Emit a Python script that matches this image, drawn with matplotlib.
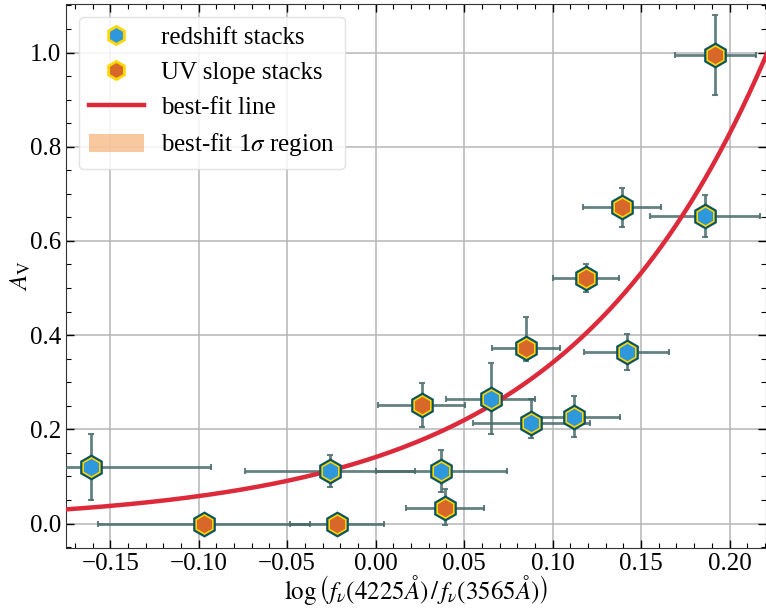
import numpy as np
import matplotlib
matplotlib.use("Agg")
import matplotlib.pyplot as plt
from matplotlib.lines import Line2D
from matplotlib.patches import Patch
from matplotlib.ticker import MultipleLocator

plt.rcParams['font.family'] = ['Liberation Serif', 'DejaVu Serif']
plt.rcParams['mathtext.fontset'] = 'stix'
plt.rcParams['font.size'] = 18

# redshift stacks
z_x = [-0.161, -0.026, 0.037, 0.065, 0.088, 0.112, 0.142, 0.186]
z_y = [0.119, 0.112, 0.112, 0.265, 0.213, 0.227, 0.364, 0.653]
z_xerr = [0.068, 0.048, 0.037, 0.025, 0.033, 0.026, 0.024, 0.031]
z_yerr_lo = [0.070, 0.034, 0.045, 0.075, 0.031, 0.043, 0.039, 0.044]
z_yerr_hi = [0.070, 0.034, 0.045, 0.075, 0.052, 0.043, 0.039, 0.044]

# UV slope stacks
uv_x = [-0.097, -0.022, 0.039, 0.026, 0.085, 0.119, 0.139, 0.192]
uv_y = [0.0, 0.0, 0.032, 0.252, 0.372, 0.522, 0.671, 0.995]
uv_xerr = [0.060, 0.0265, 0.022, 0.0245, 0.019, 0.0185, 0.022, 0.023]
uv_yerr_lo = [0.0, 0.0, 0.035, 0.047, 0.028, 0.030, 0.041, 0.085]
uv_yerr_hi = [0.0, 0.0, 0.041, 0.047, 0.067, 0.030, 0.041, 0.085]

# best-fit: A_V = amp * exp(slope * x)
fit_amp = 0.141
fit_slope = 8.85

blue = '#2f97dc'
orange = '#d8672a'
gold = '#ffd700'
teal = '#0b5560'
ecol = '#4a6b6b'

fig = plt.figure(figsize=(7.66, 6.09), dpi=100)
ax = fig.add_axes([66/766, 61/609, 700/766, 544/609])

def stack(ax, x, y, xerr, ylo, yhi, fill):
    ax.errorbar(x, y, xerr=xerr, yerr=[ylo, yhi], fmt='none', ecolor=ecol,
                elinewidth=2, capsize=2.5, capthick=1.5, alpha=0.85, zorder=3)
    ax.plot(x, y, 'h', ms=17, mfc=gold, mec=teal, mew=1.6, ls='none', zorder=5)
    ax.plot(x, y, 'h', ms=12.5, mfc=fill, mec='none', ls='none', zorder=6)

stack(ax, z_x, z_y, z_xerr, z_yerr_lo, z_yerr_hi, blue)
stack(ax, uv_x, uv_y, uv_xerr, uv_yerr_lo, uv_yerr_hi, orange)

xx = np.linspace(-0.18, 0.23, 300)
ax.plot(xx, fit_amp * np.exp(fit_slope * xx), color='#dc2a3b', lw=3.2, zorder=4)

ax.set_xlim(-0.175, 0.2206)
ax.set_ylim(-0.052, 1.103)
ax.grid(True, color='#b5b5b5', lw=1.1)
ax.set_axisbelow(True)
ax.xaxis.set_major_locator(MultipleLocator(0.05))
ax.xaxis.set_minor_locator(MultipleLocator(0.01))
ax.yaxis.set_major_locator(MultipleLocator(0.2))
ax.yaxis.set_minor_locator(MultipleLocator(0.05))
ax.tick_params(which='both', direction='in', top=True, right=True)
ax.tick_params(which='major', length=6, width=1)
ax.tick_params(which='minor', length=3.5, width=0.8)
for s in ax.spines.values():
    s.set_color('#333333')

ax.set_xlabel(r'$\log\left(f_\nu(4225Å)\,/\,f_\nu(3565Å)\right)$', labelpad=-1)
ax.set_ylabel(r'$A_{\rm V}$', labelpad=-2)

handles = [
    Line2D([], [], marker='h', ls='none', ms=13, mfc=blue, mec=gold, mew=2),
    Line2D([], [], marker='h', ls='none', ms=13, mfc=orange, mec=gold, mew=2),
    Line2D([], [], color='#dc2a3b', lw=3.2),
    Patch(facecolor='#f4a460', alpha=0.6, edgecolor='none'),
]
labels = ['redshift stacks', 'UV slope stacks', 'best-fit line', r'best-fit 1$\sigma$ region']
ax.legend(handles, labels, loc='upper left', framealpha=0.85, edgecolor='#dddddd',
          handlelength=2.2, handletextpad=0.7)

fig.savefig('out.png', dpi=100)
